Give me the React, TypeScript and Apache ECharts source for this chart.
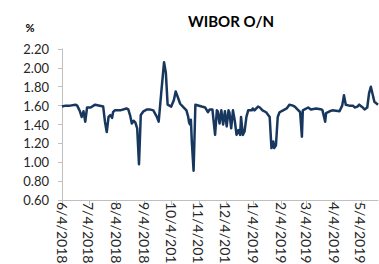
import React, { useEffect, useRef } from "react";
import * as echarts from "echarts";

const chartTitle = "WIBOR O/N";
const unitLabel = "%";

const dates: string[] = [
  "2018-06-04", "2018-06-08", "2018-06-13", "2018-06-19", "2018-06-21", "2018-06-24", "2018-06-26", "2018-06-28", "2018-06-30",
  "2018-07-02", "2018-07-06", "2018-07-11", "2018-07-20", "2018-07-22", "2018-07-24", "2018-07-26", "2018-07-28", "2018-07-30", "2018-07-31",
  "2018-08-02", "2018-08-08", "2018-08-15", "2018-08-17", "2018-08-19", "2018-08-21", "2018-08-23", "2018-08-25", "2018-08-27", "2018-08-29", "2018-08-31",
  "2018-09-03", "2018-09-07", "2018-09-10", "2018-09-14", "2018-09-18", "2018-09-20", "2018-09-23", "2018-09-26", "2018-09-28", "2018-09-30",
  "2018-10-04", "2018-10-07", "2018-10-09", "2018-10-11", "2018-10-14", "2018-10-17", "2018-10-21", "2018-10-23", "2018-10-24", "2018-10-25", "2018-10-26", "2018-10-27", "2018-10-29", "2018-10-31",
  "2018-11-07", "2018-11-11", "2018-11-14", "2018-11-16", "2018-11-19", "2018-11-22", "2018-11-24", "2018-11-25", "2018-11-27", "2018-11-29",
  "2018-12-01", "2018-12-03", "2018-12-05", "2018-12-07", "2018-12-08", "2018-12-10", "2018-12-12", "2018-12-14", "2018-12-16", "2018-12-18", "2018-12-20", "2018-12-21", "2018-12-23", "2018-12-25", "2018-12-27", "2018-12-29",
  "2019-01-02", "2019-01-03", "2019-01-05", "2019-01-09", "2019-01-11", "2019-01-14", "2019-01-18", "2019-01-22", "2019-01-24", "2019-01-26", "2019-01-27", "2019-01-29", "2019-01-31",
  "2019-02-02", "2019-02-06", "2019-02-10", "2019-02-13", "2019-02-17", "2019-02-19", "2019-02-22", "2019-02-25", "2019-02-27", "2019-02-28",
  "2019-03-02", "2019-03-06", "2019-03-09", "2019-03-15", "2019-03-21", "2019-03-22", "2019-03-25", "2019-03-26", "2019-03-30",
  "2019-04-02", "2019-04-10", "2019-04-13", "2019-04-15", "2019-04-17", "2019-04-21", "2019-04-25", "2019-04-27", "2019-04-30",
  "2019-05-02", "2019-05-06", "2019-05-08", "2019-05-11", "2019-05-13", "2019-05-15", "2019-05-17", "2019-05-19", "2019-05-23",
];

const rates: number[] = [
  1.59, 1.60, 1.60, 1.61, 1.60, 1.54, 1.48, 1.54, 1.43,
  1.58, 1.58, 1.61, 1.59, 1.43, 1.32, 1.48, 1.50, 1.47, 1.53,
  1.55, 1.55, 1.57, 1.56, 1.50, 1.41, 1.44, 1.42, 1.36, 0.98, 1.50,
  1.54, 1.56, 1.56, 1.55, 1.48, 1.43, 1.75, 2.06, 1.95, 1.61,
  1.59, 1.66, 1.75, 1.70, 1.62, 1.59, 1.55, 1.48, 1.42, 1.40, 1.45, 1.22, 0.91, 1.61,
  1.59, 1.58, 1.53, 1.56, 1.56, 1.29, 1.55, 1.54, 1.41, 1.55,
  1.40, 1.54, 1.38, 1.55, 1.53, 1.36, 1.55, 1.44, 1.29, 1.34, 1.29, 1.48, 1.29, 1.33, 1.48, 1.55,
  1.55, 1.57, 1.55, 1.59, 1.58, 1.55, 1.53, 1.48, 1.15, 1.22, 1.15, 1.18, 1.48,
  1.53, 1.55, 1.57, 1.61, 1.60, 1.59, 1.56, 1.53, 1.27, 1.55,
  1.56, 1.58, 1.56, 1.57, 1.56, 1.55, 1.43, 1.52, 1.54,
  1.55, 1.54, 1.60, 1.71, 1.61, 1.60, 1.60, 1.58, 1.59,
  1.61, 1.58, 1.56, 1.58, 1.73, 1.80, 1.72, 1.64, 1.61,
];

const tickDates: string[] = [
  "2018-06-04", "2018-07-04", "2018-08-04", "2018-09-04", "2018-10-04", "2018-11-04",
  "2018-12-04", "2019-01-04", "2019-02-04", "2019-03-04", "2019-04-04", "2019-05-04",
];

const axisStart = "2018-06-04";
const axisEnd = "2019-05-23";

const yMin = 0.6;
const yMax = 2.2;
const yStep = 0.2;

function toTime(s: string): number {
  const [y, m, d] = s.split("-").map(Number);
  return new Date(y, m - 1, d).getTime();
}

export default function App() {
  const ref = useRef<HTMLDivElement>(null);

  useEffect(() => {
    if (!ref.current) return;
    const chart = echarts.init(ref.current, null, { renderer: "svg" });
    const font = "Lato, 'Open Sans', sans-serif";
    const grey = "#BFBFBF";
    const text = "#262626";
    const ticks = tickDates.map(toTime);
    chart.setOption({
      animation: false,
      backgroundColor: "#ffffff",
      grid: {
        left: 62,
        right: 1,
        top: 49,
        bottom: 64,
        containLabel: false,
        outerBoundsMode: "none",
      },
      graphic: [
        {
          type: "text",
          x: 231,
          y: 21,
          style: {
            text: chartTitle,
            font: `bold 15px ${font}`,
            fill: "#000000",
            align: "center",
            verticalAlign: "middle",
          },
        },
        {
          type: "text",
          x: 30,
          y: 27,
          style: {
            text: unitLabel,
            font: `bold 11px ${font}`,
            fill: "#000000",
            align: "center",
            verticalAlign: "middle",
          },
        },
      ],
      xAxis: {
        type: "value",
        min: toTime(axisStart),
        max: toTime(axisEnd),
        axisLine: { show: true, lineStyle: { color: grey, width: 1 } },
        axisTick: {
          show: true,
          length: 5,
          lineStyle: { color: grey },
          customValues: ticks,
        },
        splitLine: { show: false },
        axisLabel: {
          customValues: ticks,
          rotate: -90,
          margin: 2,
          fontSize: 14,
          fontFamily: font,
          color: text,
          hideOverlap: false,
          showMaxLabel: true,
          showMinLabel: true,
          formatter: (v: number) => {
            const d = new Date(v);
            return `${d.getMonth() + 1}/${d.getDate()}/${d.getFullYear()}`;
          },
        },
      },
      yAxis: {
        type: "value",
        min: yMin,
        max: yMax,
        interval: yStep,
        axisLine: { show: true, lineStyle: { color: grey, width: 1 } },
        axisTick: { show: true, length: 4, lineStyle: { color: grey } },
        splitLine: { show: false },
        axisLabel: {
          margin: 13,
          fontSize: 13,
          fontFamily: font,
          color: text,
          formatter: (v: number) => v.toFixed(2),
        },
      },
      series: [
        {
          type: "line",
          data: dates.map((d, i) => [toTime(d), rates[i]]),
          showSymbol: false,
          symbol: "none",
          lineStyle: { color: "#17375E", width: 2.5, join: "round" },
          clip: false,
        },
      ],
    });
    return () => chart.dispose();
  }, []);

  return (
    <div
      ref={ref}
      style={{ position: "absolute", left: 0, top: 0, width: 379, height: 264 }}
    />
  );
}
